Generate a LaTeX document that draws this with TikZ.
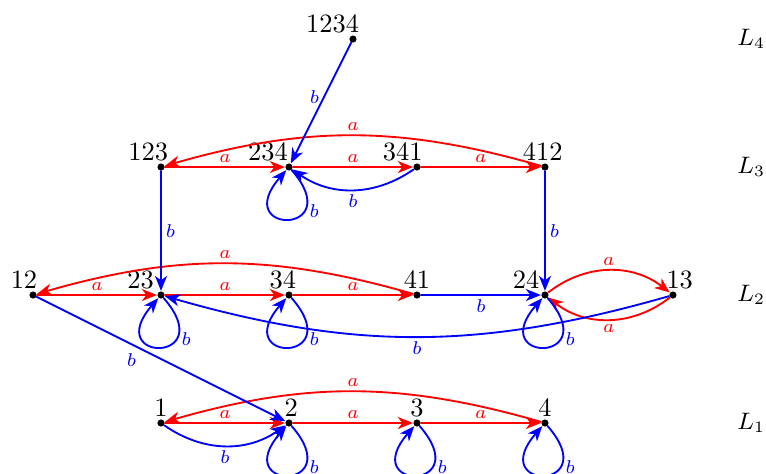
\documentclass[tikz,border=0pt]{standalone}
\usepackage{amsmath,amssymb}
\usepackage{tikz}
\usetikzlibrary{arrows.meta}
\usepackage{xcolor}

\begin{document}
\begin{tikzpicture}[x=1.7cm,y=1.7cm,>={Stealth[length=2mm,width=1.6mm,inset=0.6mm]},line cap=round,
  st/.style={circle,fill,inner sep=0pt,minimum size=2.7pt},
  tra/.style={->,red,line width=0.7pt},
  trb/.style={->,blue,line width=0.7pt},
  lab/.style={font=\scriptsize,inner sep=1.5pt},
  selfb/.style={trb,out=-49,in=-131,distance=11.5mm},
  lvl/.style={anchor=west,inner sep=0pt,font=\small}]
\useasboundingbox (-0.258,-0.391) rectangle (5.727,3.305);
% states
\node[st,label={[xshift=-0.27cm,inner sep=0pt,label distance=0.6pt]above:1234}] (s1234) at (2.5,3) {};
\node[st,label={[xshift=-0.17cm,inner sep=0pt,label distance=0.6pt]above:123}] (s123) at (1,2) {};
\node[st,label={[xshift=-0.28cm,inner sep=0pt,label distance=0.6pt]above:234}] (s234) at (2,2) {};
\node[st,label={[xshift=-0.19cm,inner sep=0pt,label distance=0.6pt]above:341}] (s341) at (3,2) {};
\node[st,label={[xshift=-0.03cm,inner sep=0pt,label distance=0.6pt]above:412}] (s412) at (4,2) {};
\node[st,label={[xshift=-0.12cm,inner sep=0pt,label distance=0.6pt]above:12}] (s12) at (0,1) {};
\node[st,label={[xshift=-0.27cm,inner sep=0pt,label distance=0.6pt]above:23}] (s23) at (1,1) {};
\node[st,label={[xshift=-0.08cm,inner sep=0pt,label distance=0.6pt]above:34}] (s34) at (2,1) {};
\node[st,label={[xshift=0cm,inner sep=0pt,label distance=0.6pt]above:41}] (s41) at (3,1) {};
\node[st,label={[xshift=-0.25cm,inner sep=0pt,label distance=0.6pt]above:24}] (s24) at (4,1) {};
\node[st,label={[xshift=0.09cm,inner sep=0pt,label distance=0.6pt]above:13}] (s13) at (5,1) {};
\node[st,label={[inner sep=0pt,label distance=0.6pt]above:1}] (s1) at (1,0) {};
\node[st,label={[xshift=0.03cm,inner sep=0pt,label distance=0.6pt]above:2}] (s2) at (2,0) {};
\node[st,label={[inner sep=0pt,label distance=0.6pt]above:3}] (s3) at (3,0) {};
\node[st,label={[inner sep=0pt,label distance=0.6pt]above:4}] (s4) at (4,0) {};
% levels
\node[lvl] (lv4) at (5.5,3) {$L_4$};
\node[lvl] (lv3) at (5.5,2) {$L_3$};
\node[lvl] (lv2) at (5.5,1) {$L_2$};
\node[lvl] (lv1) at (5.5,0) {$L_1$};
% letter a
\draw[tra] (s123) -- node[lab,above]{$a$} (s234);
\draw[tra] (s234) -- node[lab,above]{$a$} (s341);
\draw[tra] (s341) -- node[lab,above]{$a$} (s412);
\draw[tra] (s412) to[bend right=16] node[lab,above]{$a$} (s123);
\draw[tra] (s12) -- node[lab,above]{$a$} (s23);
\draw[tra] (s23) -- node[lab,above]{$a$} (s34);
\draw[tra] (s34) -- node[lab,above]{$a$} (s41);
\draw[tra] (s41) to[bend right=16] node[lab,above]{$a$} (s12);
\draw[tra] (s24) to[bend left=38] node[lab,above]{$a$} (s13);
\draw[tra] (s13) to[bend left=38] node[lab,below]{$a$} (s24);
\draw[tra] (s1) -- node[lab,above]{$a$} (s2);
\draw[tra] (s2) -- node[lab,above]{$a$} (s3);
\draw[tra] (s3) -- node[lab,above]{$a$} (s4);
\draw[tra] (s4) to[bend right=16] node[lab,above]{$a$} (s1);
% letter b
\draw[trb] (s1234) -- node[lab,pos=0.45,left]{$b$} (s234);
\draw[trb] (s123) -- node[lab,right]{$b$} (s23);
\draw[trb] (s412) -- node[lab,right]{$b$} (s24);
\draw[trb] (s341) to[bend left=35] node[lab,below]{$b$} (s234);
\draw[trb] (s41) -- node[lab,below]{$b$} (s24);
\draw[trb] (s13) to[bend left=16] node[lab,below]{$b$} (s23);
\draw[trb] (s12) -- node[lab,pos=0.42,below left]{$b$} (s2);
\draw[trb] (s1) to[bend right=35] node[lab,below]{$b$} (s2);
\draw[selfb] (s234) to node[lab,pos=0.3,right]{$b$} (s234);
\draw[selfb] (s23) to node[lab,pos=0.3,right]{$b$} (s23);
\draw[selfb] (s34) to node[lab,pos=0.3,right]{$b$} (s34);
\draw[selfb] (s24) to node[lab,pos=0.3,right]{$b$} (s24);
\draw[selfb] (s2) to node[lab,pos=0.3,right]{$b$} (s2);
\draw[selfb] (s3) to node[lab,pos=0.3,right]{$b$} (s3);
\draw[selfb] (s4) to node[lab,pos=0.3,right]{$b$} (s4);
\end{tikzpicture}
\end{document}
